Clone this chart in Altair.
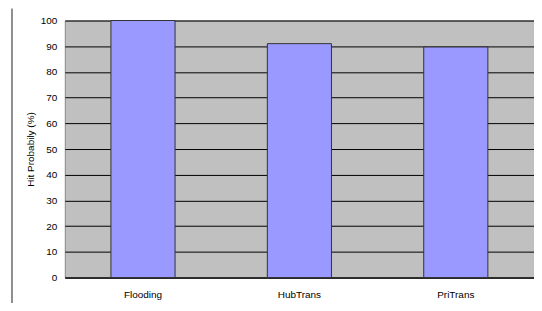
import altair as alt
import pandas as pd

categories = ["Flooding", "HubTrans", "PriTrans"]
values = [100, 91, 89.7]

df = pd.DataFrame({"method": categories, "prob": values})

FONT = "Liberation Sans"

bars = alt.Chart(df).mark_bar(
    color="#9999FF", stroke="#333333", strokeWidth=1
).encode(
    x=alt.X("method:N", sort=categories, title=None,
            scale=alt.Scale(paddingInner=0.59, paddingOuter=0.295),
            axis=alt.Axis(labelAngle=0, ticks=False, labelPadding=12,
                          domainColor="#000000", labelFont=FONT, labelFontSize=10,
                          labelColor="#000000")),
    y=alt.Y("prob:Q", title="Hit Probabily (%)",
            scale=alt.Scale(domain=[0, 100], nice=False),
            axis=alt.Axis(values=list(range(0, 101, 10)), ticks=False, labelPadding=8,
                          grid=True, gridColor="#000000", gridWidth=1, gridOpacity=1,
                          domain=False, labelFont=FONT, labelFontSize=10,
                          labelColor="#000000", titleFont=FONT, titleFontSize=10,
                          titleFontWeight="normal", titleColor="#000000",
                          titlePadding=5)),
)

border = alt.Chart(pd.DataFrame({"a": [0]})).mark_rule(color="#202020", strokeWidth=1).encode(
    x=alt.value(-53), y=alt.value(-12), y2=alt.value(300)
)

chart = alt.layer(bars, border).properties(
    width=471, height=258,
    background="#FFFFFF",
    autosize=alt.AutoSizeParams(type="none"),
    padding={"left": 57, "top": 12, "right": 0, "bottom": 25},
).configure_view(
    fill="#C0C0C0", stroke="#888888", strokeWidth=1
)

chart.save("out.html", embed_options={"renderer": "svg", "actions": False})
